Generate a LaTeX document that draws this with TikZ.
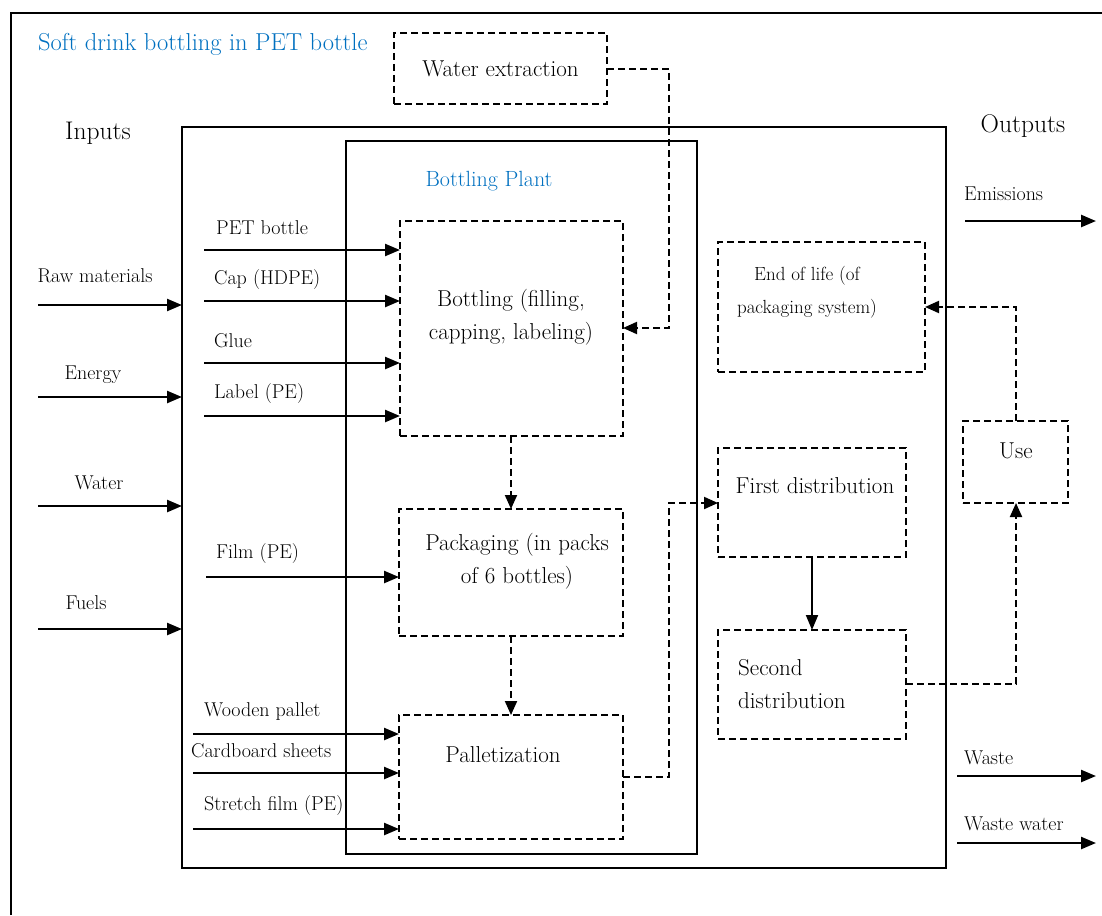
\documentclass[tikz,border=0pt]{standalone}
\usetikzlibrary{arrows.meta}
\definecolor{ttlblue}{RGB}{0,112,192}
\begin{document}
\begin{tikzpicture}[x=1pt,y=-1pt,
  lbl/.style={inner sep=0pt,font=\fontsize{20}{24}\selectfont},
  big/.style={inner sep=0pt,font=\fontsize{23}{33}\selectfont},
  huge/.style={inner sep=0pt,font=\fontsize{25.5}{30}\selectfont},
  sbox/.style={draw,line width=1.5pt,inner sep=0pt,outer sep=0pt,anchor=north west},
  dbox/.style={draw,line width=1.6pt,dash pattern=on 7pt off 4pt,inner sep=0pt,outer sep=0pt,anchor=north west},
  inarrow/.style={line width=2.4pt,-{Triangle[length=15pt,width=12pt]}},
  darrow/.style={line width=2pt,dash pattern=on 7pt off 4pt,-{Triangle[length=14pt,width=12pt]}}]
\useasboundingbox (0,0) rectangle (1102,915);
% outer frame (cropped)
\draw[line width=1.5pt] (11,915) -- (11,13) -- (1102,13);
\node[inner sep=0pt,font=\fontsize{24.5}{28}\selectfont,text=ttlblue,anchor=west] (title) at (38,44) {Soft drink bottling in PET bottle};
\node[huge] (inputs) at (98,133) {Inputs};
\node[huge] (outputs) at (1023,126) {Outputs};
% system boxes
\node[sbox,minimum width=764pt,minimum height=741pt] (sys) at (182,127) {};
\node[sbox,minimum width=351pt,minimum height=713pt] (plant) at (346,141) {};
\node[inner sep=0pt,font=\fontsize{22}{26}\selectfont,text=ttlblue] (plantlbl) at (489,181) {Bottling Plant};
% process boxes
\node[dbox,minimum width=213pt,minimum height=71pt] (wex) at (394,33) {};
\node[big] at (wex.center) {Water extraction};
\node[dbox,minimum width=223pt,minimum height=215pt] (bot) at (400,221) {};
\node[big,align=center] at (511,317) {Bottling (filling,\\capping, labeling)};
\node[dbox,minimum width=224pt,minimum height=127pt] (pack) at (399,509) {};
\node[big,align=center] at (517,561) {Packaging (in packs\\of 6 bottles)};
\node[dbox,minimum width=224pt,minimum height=124pt] (pal) at (399,715) {};
\node[big] at (503,755) {Palletization};
\node[dbox,minimum width=188pt,minimum height=109pt] (fd) at (718,448) {};
\node[big] at (815,486) {First distribution};
\node[dbox,minimum width=188pt,minimum height=109pt] (sd) at (718,630) {};
\node[big,align=left,anchor=west] at (738,684) {Second\\distribution};
\node[dbox,minimum width=207pt,minimum height=130pt] (eol) at (718,242) {};
\node[inner sep=0pt,font=\fontsize{19}{33}\selectfont,align=center] at (807,292) {End of life (of\\packaging system)};
\node[dbox,minimum width=105pt,minimum height=82pt] (use) at (963,421) {};
\node[big] at (1016,451) {Use};
% process flows
\coordinate (wexc) at (669,69);
\draw[darrow] (wex.east |- wexc) -- (wexc) |- (bot.east |- 0,328);
\draw[darrow] (bot.south -| 511,0) -- (pack.north -| 511,0);
\draw[darrow] (pack.south -| 511,0) -- (pal.north -| 511,0);
\coordinate (palc) at (669,777);
\draw[darrow] (pal.east |- palc) -- (palc) |- (fd.west |- 0,503);
\draw[inarrow,line width=2pt] (fd.south -| 812,0) -- (sd.north -| 812,0);
\coordinate (sdc) at (1016,684);
\draw[darrow] (sd.east |- sdc) -- (sdc) -- (use.south -| sdc);
\coordinate (usec) at (1016,307);
\draw[darrow] (use.north -| usec) -- (usec) -- (eol.east |- usec);
% system inputs
\coordinate (rawS) at (38,305);
\coordinate (eneS) at (38,397);
\coordinate (watS) at (38,506);
\coordinate (fueS) at (38,629);
\draw[inarrow] (rawS) -- (rawS -| sys.west);
\draw[inarrow] (eneS) -- (eneS -| sys.west);
\draw[inarrow] (watS) -- (watS -| sys.west);
\draw[inarrow] (fueS) -- (fueS -| sys.west);
\node[lbl] at (95,276) {Raw materials};
\node[lbl] at (93,375) {Energy};
\node[lbl] at (99,483) {Water};
\node[lbl] at (86,603) {Fuels};
% material inputs
\coordinate (petS) at (204,250);
\coordinate (capS) at (204,301);
\coordinate (gluS) at (204,363);
\coordinate (labS) at (204,416);
\coordinate (filS) at (206,577);
\coordinate (wooS) at (193,734);
\coordinate (carS) at (193,773);
\coordinate (strS) at (193,829);
\draw[inarrow] (petS) -- (petS -| bot.west);
\draw[inarrow] (capS) -- (capS -| bot.west);
\draw[inarrow] (gluS) -- (gluS -| bot.west);
\draw[inarrow] (labS) -- (labS -| bot.west);
\draw[inarrow] (filS) -- (filS -| pack.west);
\draw[inarrow] (wooS) -- (wooS -| pal.west);
\draw[inarrow] (carS) -- (carS -| pal.west);
\draw[inarrow] (strS) -- (strS -| pal.west);
\node[lbl,anchor=west] at (216,228) {PET bottle};
\node[lbl,anchor=west] at (214,280) {Cap (HDPE)};
\node[lbl,anchor=west] at (214,341) {Glue};
\node[lbl,anchor=west] at (214,394) {Label (PE)};
\node[lbl,anchor=west] at (216,554) {Film (PE)};
\node[lbl,anchor=west] at (204,712) {Wooden pallet};
\node[lbl,anchor=west] at (191,751) {Cardboard sheets};
\node[lbl,anchor=west] at (204,805) {Stretch film (PE)};
% outputs
\coordinate (emiS) at (965,221);
\coordinate (emiE) at (1096,221);
\coordinate (wasS) at (957,776);
\coordinate (wasE) at (1096,776);
\coordinate (wwS) at (957,843);
\coordinate (wwE) at (1096,843);
\draw[inarrow] (emiS) -- (emiE);
\draw[inarrow] (wasS) -- (wasE);
\draw[inarrow] (wwS) -- (wwE);
\node[lbl,anchor=west] at (964,194) {Emissions};
\node[lbl,anchor=west] at (964,758) {Waste};
\node[lbl,anchor=west] at (964,824) {Waste water};
\end{tikzpicture}
\end{document}
